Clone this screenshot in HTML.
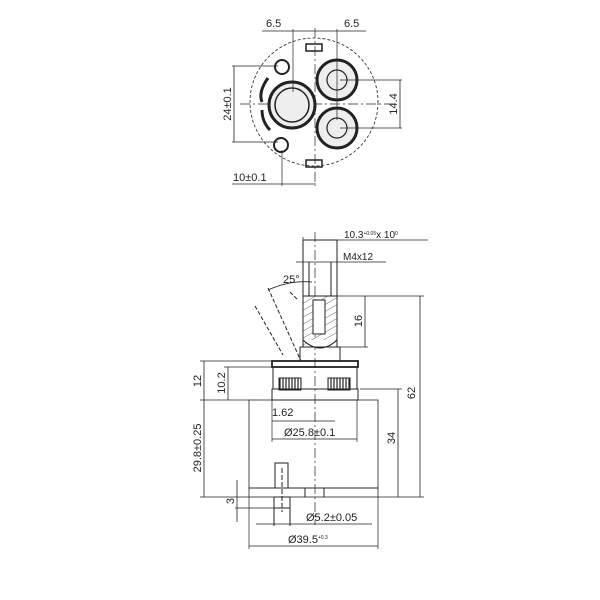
<!DOCTYPE html>
<html><head><style>body{margin:0;background:#fff}svg{display:block}text{font-family:"Liberation Sans",sans-serif;fill:#222}</style></head>
<body>
<svg width="600" height="600" viewBox="0 0 600 600" xmlns="http://www.w3.org/2000/svg" stroke="#222" fill="none" stroke-width="1">
<!-- TOP VIEW -->
<circle cx="314" cy="102" r="64" stroke-dasharray="3,2" stroke-width="0.8"/>
<line x1="240" y1="104" x2="395" y2="104" stroke-dasharray="10,3,2,3" stroke-width="0.7"/>
<line x1="315" y1="28" x2="315" y2="186" stroke-dasharray="10,3,2,3" stroke-width="0.7"/>
<circle cx="292" cy="105" r="23" stroke-width="3" fill="#eee"/>
<circle cx="292" cy="105" r="17" stroke-width="1.5"/>
<circle cx="337" cy="80" r="20" stroke-width="3" fill="#eee"/>
<circle cx="337" cy="80" r="10" stroke-width="1.2"/>
<circle cx="337" cy="128" r="20" stroke-width="3" fill="#eee"/>
<circle cx="337" cy="128" r="10" stroke-width="1.2"/>
<circle cx="282" cy="67" r="7" stroke-width="2"/>
<circle cx="281" cy="145" r="7" stroke-width="2"/>
<path d="M268 78 Q258 92 262 102" stroke-width="3"/>
<path d="M262 110 Q262 122 270 130" stroke-width="3"/>
<rect x="306" y="44" width="16" height="7" stroke-width="1.5"/>
<rect x="306" y="160" width="16" height="7" stroke-width="1.5"/>
<!-- top dims -->
<line x1="262" y1="31" x2="366" y2="31" stroke-width="0.8"/>
<line x1="293" y1="29" x2="293" y2="92" stroke-width="0.7"/>
<line x1="337" y1="29" x2="337" y2="120" stroke-width="0.7"/>
<text x="266" y="27" font-size="11" stroke="none">6.5</text>
<text x="344" y="27" font-size="11" stroke="none">6.5</text>
<line x1="232" y1="66" x2="278" y2="66" stroke-width="0.7"/>
<line x1="232" y1="142" x2="278" y2="142" stroke-width="0.7"/>
<line x1="234" y1="66" x2="234" y2="142" stroke-width="0.8"/>
<text transform="translate(231,104) rotate(-90)" text-anchor="middle" font-size="11" stroke="none">24±0.1</text>
<line x1="340" y1="80" x2="402" y2="80" stroke-width="0.7"/>
<line x1="340" y1="128" x2="402" y2="128" stroke-width="0.7"/>
<line x1="400" y1="80" x2="400" y2="128" stroke-width="0.8"/>
<text transform="translate(397,104) rotate(-90)" text-anchor="middle" font-size="11" stroke="none">14.4</text>
<line x1="232" y1="184" x2="316" y2="184" stroke-width="0.8"/>
<line x1="282" y1="150" x2="282" y2="186" stroke-width="0.7"/>
<text x="233" y="181" font-size="11" stroke="none">10±0.1</text>
<!-- SIDE VIEW -->
<line x1="315" y1="232" x2="315" y2="525" stroke-dasharray="10,3,2,3" stroke-width="0.7"/>
<rect x="303" y="240" width="34" height="107" stroke-width="1"/>
<line x1="309" y1="262" x2="309" y2="296"/><line x1="331" y1="262" x2="331" y2="296"/>
<path d="M303 296 H337 V347 H303 Z" fill="url(#h)"/>
<defs><pattern id="h" width="6" height="6" patternUnits="userSpaceOnUse" patternTransform="rotate(60)"><line x1="0" y1="0" x2="0" y2="6" stroke="#444" stroke-width="0.8"/></pattern></defs>
<rect x="313" y="300" width="12" height="34" fill="#fff"/>
<path d="M303 340 Q320 356 337 340" fill="#fff"/>
<line x1="300" y1="347" x2="340" y2="347"/>
<line x1="300" y1="347" x2="300" y2="361"/><line x1="340" y1="347" x2="340" y2="361"/>
<!-- tilted dashed stem -->
<path d="M268 288 L301 361" stroke-dasharray="4,2"/>
<path d="M255 306 L283 355" stroke-dasharray="4,2"/>
<path d="M290 292 L298 300" stroke-dasharray="4,2"/>
<path d="M268 290 Q290 280 312 282" stroke-width="0.8"/>
<text x="283" y="283" font-size="11" stroke="none">25°</text>
<!-- flange/body -->
<rect x="272" y="361" width="86" height="6" stroke-width="1.8"/>
<rect x="273" y="367" width="84" height="22"/>
<rect x="279" y="378" width="22" height="12" fill="url(#g)"/>
<rect x="328" y="378" width="22" height="12" fill="url(#g)"/>
<defs><pattern id="g" width="3" height="3" patternUnits="userSpaceOnUse"><line x1="1" y1="0" x2="1" y2="3" stroke="#222" stroke-width="1.2"/></pattern></defs>
<rect x="272" y="389" width="86" height="11"/>
<rect x="249" y="400" width="129" height="88" stroke-width="0.8"/>
<rect x="249" y="488" width="129" height="9" stroke-width="0.8"/>
<path d="M275 488 V463 H288 V488" stroke-width="1"/>
<line x1="305" y1="488" x2="305" y2="497"/><line x1="324" y1="488" x2="324" y2="497"/>
<rect x="274" y="497" width="16" height="11"/>
<line x1="282" y1="468" x2="282" y2="512" stroke-dasharray="5,2"/>
<!-- side dims -->
<line x1="337" y1="240" x2="428" y2="240" stroke-width="0.7"/>
<line x1="303" y1="237" x2="303" y2="250" stroke-width="0.7"/>
<text x="344" y="238" font-size="10" stroke="none">10.3<tspan font-size="5" dy="-3">+0.05</tspan><tspan dy="3">x 10</tspan><tspan font-size="5" dy="-3">0</tspan></text>
<line x1="296" y1="262" x2="386" y2="262" stroke-width="0.7"/>
<text x="343" y="260" font-size="10" stroke="none">M4x12</text>
<line x1="337" y1="296" x2="424" y2="296" stroke-width="0.7"/>
<line x1="340" y1="347" x2="368" y2="347" stroke-width="0.7"/>
<line x1="365" y1="296" x2="365" y2="347" stroke-width="0.8"/>
<text transform="translate(362,321) rotate(-90)" text-anchor="middle" font-size="11" stroke="none">16</text>
<line x1="420" y1="296" x2="420" y2="497" stroke-width="0.8"/>
<line x1="378" y1="497" x2="424" y2="497" stroke-width="0.7"/>
<text transform="translate(415,393) rotate(-90)" text-anchor="middle" font-size="11" stroke="none">62</text>
<line x1="360" y1="389" x2="402" y2="389" stroke-width="0.7"/>
<line x1="398" y1="389" x2="398" y2="497" stroke-width="0.8"/>
<text transform="translate(395,438) rotate(-90)" text-anchor="middle" font-size="11" stroke="none">34</text>
<line x1="200" y1="361" x2="272" y2="361" stroke-width="0.7"/>
<line x1="224" y1="367" x2="273" y2="367" stroke-width="0.7"/>
<line x1="200" y1="400" x2="249" y2="400" stroke-width="0.7"/>
<line x1="204" y1="361" x2="204" y2="497" stroke-width="0.8"/>
<line x1="228" y1="367" x2="228" y2="400" stroke-width="0.8"/>
<line x1="200" y1="497" x2="249" y2="497" stroke-width="0.7"/>
<text transform="translate(201,381) rotate(-90)" text-anchor="middle" font-size="11" stroke="none">12</text>
<text transform="translate(225,383) rotate(-90)" text-anchor="middle" font-size="11" stroke="none">10.2</text>
<text transform="translate(201,448) rotate(-90)" text-anchor="middle" font-size="11" stroke="none">29.8±0.25</text>
<line x1="237" y1="480" x2="237" y2="522" stroke-width="0.8"/>
<line x1="235" y1="508" x2="274" y2="508" stroke-width="0.7"/>
<text transform="translate(234,501) rotate(-90)" text-anchor="middle" font-size="11" stroke="none">3</text>
<line x1="272" y1="400" x2="272" y2="442" stroke-width="0.7"/>
<line x1="357" y1="400" x2="357" y2="442" stroke-width="0.7"/>
<line x1="272" y1="421" x2="335" y2="421" stroke-width="0.7"/>
<text x="272" y="416" font-size="11" stroke="none">1.62</text>
<line x1="272" y1="439" x2="357" y2="439" stroke-width="0.7"/>
<text x="284" y="436" font-size="11" stroke="none">Ø25.8±0.1</text>
<line x1="274" y1="508" x2="274" y2="526"/><line x1="290" y1="508" x2="290" y2="526"/>
<line x1="256" y1="524" x2="372" y2="524" stroke-width="0.7"/>
<text x="306" y="521" font-size="11" stroke="none">Ø5.2±0.05</text>
<line x1="249" y1="497" x2="249" y2="549" stroke-width="0.7"/>
<line x1="378" y1="497" x2="378" y2="549" stroke-width="0.7"/>
<line x1="249" y1="546" x2="378" y2="546" stroke-width="0.7"/>
<text x="288" y="543" font-size="11" stroke="none">Ø39.5<tspan font-size="5" dy="-4">+0.3</tspan></text>
</svg>
</body></html>
